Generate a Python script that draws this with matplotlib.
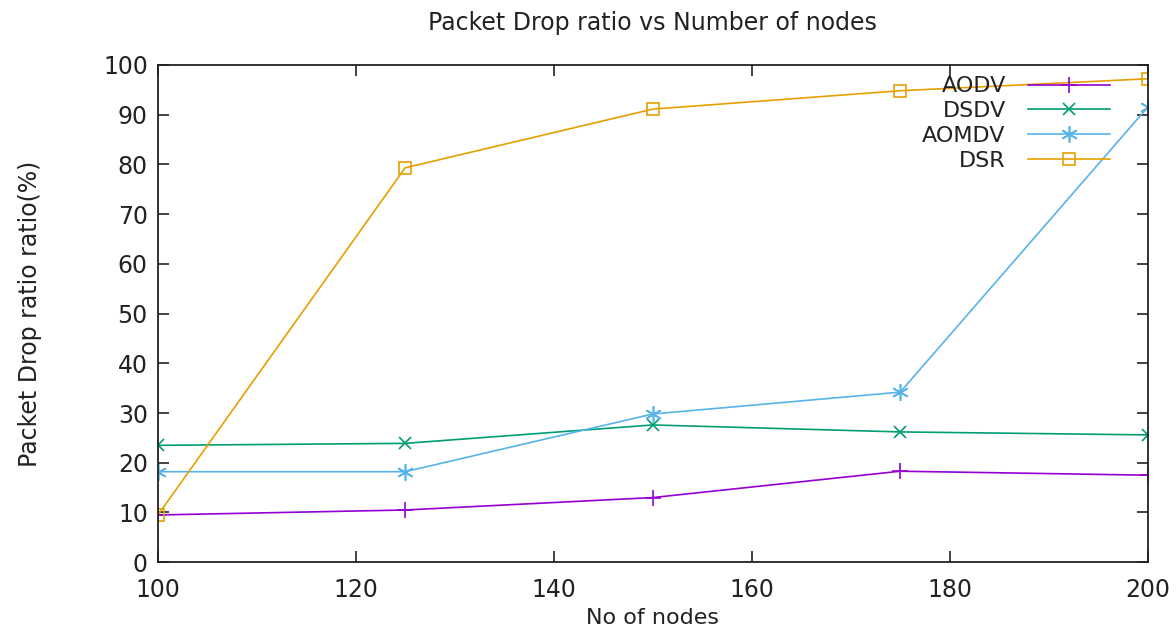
import matplotlib
matplotlib.use("Agg")
import matplotlib.pyplot as plt

plt.rcParams['font.family'] = ['DejaVu Sans']

nodes = [100, 125, 150, 175, 200]
aodv = [9.5, 10.5, 13.0, 18.3, 17.5]
dsdv = [23.5, 23.9, 27.6, 26.2, 25.6]
aomdv = [18.2, 18.2, 29.8, 34.2, 91.5]
dsr = [9.4, 79.3, 91.1, 94.8, 97.2]

fig = plt.figure(figsize=(11.76, 6.36), dpi=100)
ax = fig.add_axes([0.134, 0.116, 0.842, 0.782])

ast = (6, 2, 0)
ax.plot(nodes, aodv, color='#9400d3', lw=1.2, marker='+', ms=12, mew=1.2, label='AODV')
ax.plot(nodes, dsdv, color='#009e73', lw=1.2, marker='x', ms=9, mew=1.2, label='DSDV')
ax.plot(nodes, aomdv, color='#56b4e9', lw=1.2, marker=ast, ms=12, mew=1.2, label='AOMDV')
ax.plot(nodes, dsr, color='#e69f00', lw=1.2, marker='s', ms=9, mew=1.2, mfc='none', label='DSR')

ax.set_xlim(100, 200)
ax.set_ylim(0, 100)
ax.set_xticks(range(100, 201, 20))
ax.set_yticks(range(0, 101, 10))
ax.tick_params(direction='in', length=8, width=1.2, top=True, right=True, labelsize=17, colors='#222222')
ax.tick_params(axis='x', pad=11)
ax.tick_params(axis='y', pad=7)
for s in ax.spines.values():
    s.set_linewidth(1.3)
    s.set_color('#222222')

ax.set_title('Packet Drop ratio vs Number of nodes', fontsize=17, pad=25, color='#222222')
ax.set_xlabel('No of nodes', fontsize=16, labelpad=5, color='#222222')
ax.set_ylabel('Packet Drop ratio ratio(%)', fontsize=17, labelpad=44, color='#222222')

ax.legend(loc='upper right', bbox_to_anchor=(0.962, 0.977), frameon=False, markerfirst=False,
          fontsize=16, handlelength=3.7, labelspacing=0.22, handletextpad=1.0,
          borderpad=0, borderaxespad=0, labelcolor='#222222')

fig.savefig('out.png', dpi=100)
